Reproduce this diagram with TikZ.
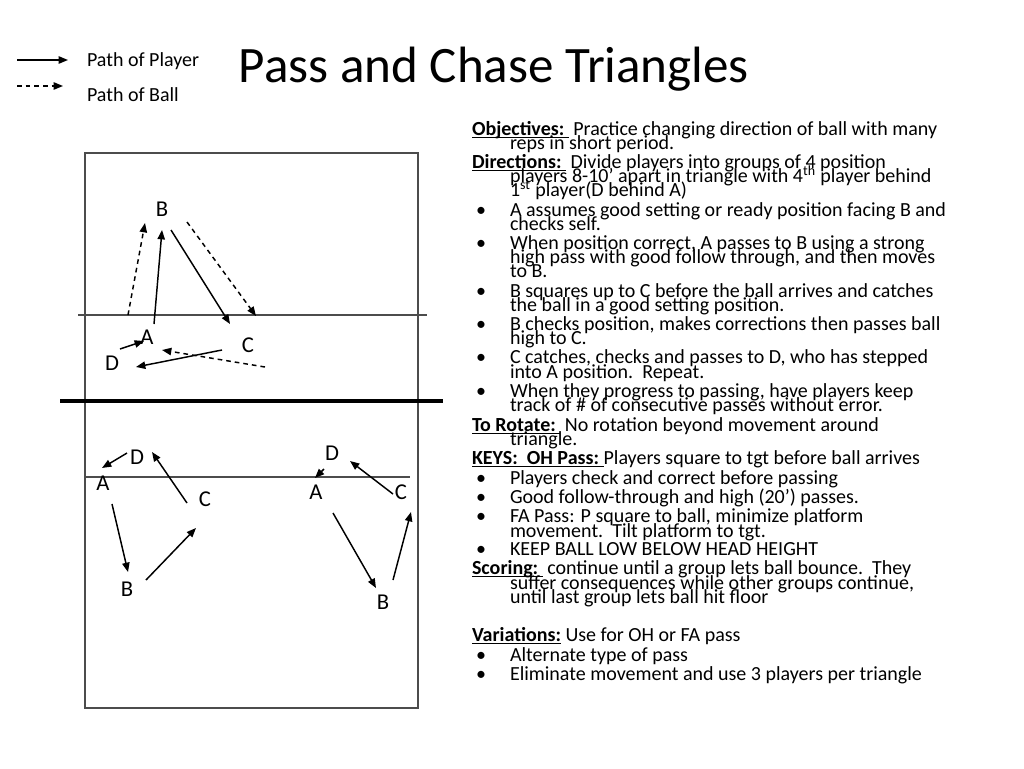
\documentclass[tikz,border=0pt]{standalone}
\usepackage{fontspec}
\setmainfont{Carlito}
\usetikzlibrary{arrows.meta}
\newcommand{\hd}[1]{\setbox0\hbox{\textbf{#1}}\rlap{\rule[-2pt]{\wd0}{0.9pt}}\box0}
\begin{document}
\begin{tikzpicture}[x=0.75pt,y=-0.75pt,
  every node/.style={inner sep=0pt,outer sep=0pt},
  ln/.style={anchor=mid west,font=\fontsize{15}{17}\selectfont,yshift=-2.2pt},
  bul/.style={anchor=mid west,font=\fontsize{15}{17}\selectfont,yshift=-2.2pt},
  let/.style={font=\fontsize{17}{20}\selectfont},
  player/.style={line width=1.1pt,-{Triangle[length=7pt,width=5.5pt]}},
  ball/.style={line width=1.1pt,dash pattern=on 3.5pt off 3pt,-{Triangle[length=7pt,width=5.5pt]}},
  court/.style={draw=black!70,line width=0.8pt}]
\path[use as bounding box] (0,0) rectangle (1024,768);
% legend
\coordinate (l1s) at (17,60); \coordinate (l1e) at (68,60);
\coordinate (l2s) at (17,86); \coordinate (l2e) at (63,86);
\draw[player] (l1s) -- (l1e);
\draw[ball] (l2s) -- (l2e);
\node[ln] (leg1) at (87,60) {Path of Player};
\node[ln] (leg2) at (87,95) {Path of Ball};
% title
\node[font=\fontsize{38.3}{44}\selectfont] (title) at (494,69) {Pass and Chase Triangles};
% court
\draw[court] (85,153) rectangle (418,708);
\draw[court] (78,315) -- (427,315);
\draw[court] (85,477) -- (410,477);
\draw[line width=3pt] (60,401) -- (443,401);
% top triangle
\node[let] (tB) at (162,209) {B};
\node[let] (tA) at (147,337) {A};
\node[let] (tC) at (248,345) {C};
\node[let] (tD) at (112,363) {D};
\coordinate (p1s) at (128,315); \coordinate (p1e) at (145,223);
\coordinate (p2s) at (154,324); \coordinate (p2e) at (162,230);
\coordinate (p3s) at (171,230); \coordinate (p3e) at (230,324);
\coordinate (p4s) at (187,222); \coordinate (p4e) at (256,316);
\coordinate (p5s) at (120,349); \coordinate (p5e) at (144,341);
\coordinate (p6s) at (222,350); \coordinate (p6e) at (136,367);
\coordinate (p7s) at (265,367); \coordinate (p7e) at (162,350);
\draw[ball] (p1s) -- (p1e);
\draw[player] (p2s) -- (p2e);
\draw[player] (p3s) -- (p3e);
\draw[ball] (p4s) -- (p4e);
\draw[player] (p5s) -- (p5e);
\draw[player] (p6s) -- (p6e);
\draw[ball] (p7s) -- (p7e);
% bottom left triangle
\node[let] (lD) at (137,457) {D};
\node[let] (lA) at (103,483) {A};
\node[let] (lC) at (205,499) {C};
\node[let] (lB) at (127,589) {B};
\coordinate (q1s) at (127,453); \coordinate (q1e) at (102,468);
\coordinate (q2s) at (187,503); \coordinate (q2e) at (152,452);
\coordinate (q3s) at (112,504); \coordinate (q3e) at (128,572);
\coordinate (q4s) at (146,580); \coordinate (q4e) at (196,528);
\draw[player] (q1s) -- (q1e);
\draw[player] (q2s) -- (q2e);
\draw[player] (q3s) -- (q3e);
\draw[player] (q4s) -- (q4e);
% bottom right triangle
\node[let] (rD) at (332,453) {D};
\node[let] (rA) at (316,492) {A};
\node[let] (rC) at (401,492) {C};
\node[let] (rB) at (383,602) {B};
\coordinate (s1s) at (324,469); \coordinate (s1e) at (315,478);
\coordinate (s2s) at (393,494); \coordinate (s2e) at (350,461);
\coordinate (s3s) at (333,513); \coordinate (s3e) at (376,588);
\coordinate (s4s) at (393,580); \coordinate (s4e) at (411,512);
\draw[player] (s1s) -- (s1e);
\draw[player] (s2s) -- (s2e);
\draw[player] (s3s) -- (s3e);
\draw[player] (s4s) -- (s4e);
% text
\node[ln] (t1) at (472,129) {\hd{Objectives:~}~Practice changing direction of ball with many};
\node[ln] (t2) at (510,143) {reps in short period.};
\node[ln] (t3) at (472,162) {\hd{Directions:~}~Divide players into groups of 4 position};
\node[ln] (t4) at (510,176) {players 8-10’ apart in triangle with 4\textsuperscript{th} player behind};
\node[ln] (t5) at (510,190) {1\textsuperscript{st} player(D behind A)};
\node[ln] (t6) at (510,210) {A assumes good setting or ready position facing B and};
\node[ln] (t7) at (510,224) {checks self.};
\node[ln] (t8) at (510,243) {When position correct, A passes to B using a strong};
\node[ln] (t9) at (510,257) {high pass with good follow through, and then moves};
\node[ln] (t10) at (510,271) {to B.};
\node[ln] (t11) at (510,291) {B squares up to C before the ball arrives and catches};
\node[ln] (t12) at (510,305) {the ball in a good setting position.};
\node[ln] (t13) at (510,324) {B checks position, makes corrections then passes ball};
\node[ln] (t14) at (510,338) {high to C.};
\node[ln] (t15) at (510,357) {C catches, checks and passes to D, who has stepped};
\node[ln] (t16) at (510,372) {into A position.~~Repeat.};
\node[ln] (t17) at (510,391) {When they progress to passing, have players keep};
\node[ln] (t18) at (510,405) {track of \# of consecutive passes without error.};
\node[ln] (t19) at (472,425) {\hd{To Rotate:~}~No rotation beyond movement around};
\node[ln] (t20) at (510,439) {triangle.};
\node[ln] (t21) at (472,458) {\hd{KEYS:~~OH Pass:~}Players square to tgt before ball arrives};
\node[ln] (t22) at (510,478) {Players check and correct before passing};
\node[ln] (t23) at (510,497) {Good follow-through and high (20’) passes.};
\node[ln] (t24) at (510,516) {FA Pass: P square to ball, minimize platform};
\node[ln] (t25) at (510,531) {movement.~~Tilt platform to tgt.};
\node[ln] (t26) at (510,549) {KEEP BALL LOW BELOW HEAD HEIGHT};
\node[ln] (t27) at (472,568) {\hd{Scoring:~}~continue until a group lets ball bounce.~~They};
\node[ln] (t28) at (510,583) {suffer consequences while other groups continue,};
\node[ln] (t29) at (510,597) {until last group lets ball hit floor};
\node[ln] (t30) at (472,635) {\hd{Variations:}~Use for OH or FA pass};
\node[ln] (t31) at (510,655) {Alternate type of pass};
\node[ln] (t32) at (510,674) {Eliminate movement and use 3 players per triangle};
\foreach \y/\n in {210/1,243/2,291/3,324/4,357/5,391/6,478/7,497/8,516/9,549/10,655/11,674/12}
  \node[bul] (b\n) at (476,\y) {•};
\end{tikzpicture}
\end{document}
